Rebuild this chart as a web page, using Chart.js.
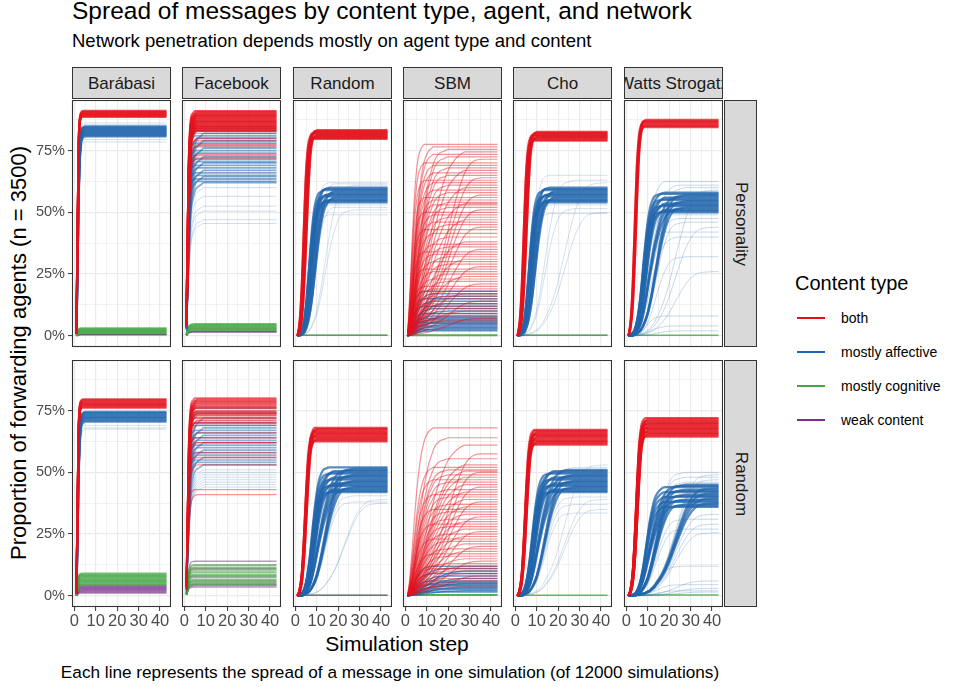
<!DOCTYPE html>
<html>
<head>
<meta charset="utf-8">
<script src="https://cdn.jsdelivr.net/npm/chart.js@4/dist/chart.umd.min.js"></script>
<style>
  body { margin: 0; background: #fff; width: 957px; height: 687px; position: relative; overflow: hidden;
         font-family: "Liberation Sans", Arial, sans-serif; color: #000; }
  .txt { position: absolute; white-space: nowrap; line-height: 1; }
  .strip { position: absolute; background: #D9D9D9; border: 1px solid #333; box-sizing: border-box;
           overflow: hidden; color: #1A1A1A; font-size: 17px; white-space: nowrap; }
  .strip span { position: absolute; left: 50%; top: 50%; width: max-content; transform: translate(-50%, -50%); line-height: 1; }
  .strip.side span { transform: translate(-50%, -50%) rotate(90deg); }
  canvas { position: absolute; }
  .key { position: absolute; height: 2px; width: 28px; }
</style>
</head>
<body>
<div class="txt" style="left:72px;top:-1px;font-size:24.5px;">Spread of messages by content type, agent, and network</div>
<div class="txt" style="left:72px;top:32px;font-size:18.5px;">Network penetration depends mostly on agent type and content</div>
<div class="txt" style="left:19px;top:353px;font-size:22px;transform:translate(-50%,-50%) rotate(-90deg);">Proportion of forwarding agents (n = 3500)</div>
<div class="txt" style="left:397px;top:633px;font-size:21px;transform:translateX(-50%);">Simulation step</div>
<div class="txt" style="left:390px;top:664px;font-size:17.2px;transform:translateX(-50%);">Each line represents the spread of a message in one simulation (of 12000 simulations)</div>
<div id="legend"></div>
<div id="panels"></div>

<script>
// ---- facets and content types ----
const NETWORKS = ['Barábasi', 'Facebook', 'Random', 'SBM', 'Cho', 'Watts Strogatz'];
const AGENTS = ['Personality', 'Random'];
const CONTENT_TYPES = ['both', 'mostly affective', 'mostly cognitive', 'weak content'];
const CONTENT_COLORS = ['#E4111C', '#2166AC', '#44A544', '#7B2D8E'];

// ---- axes ----
const X_BREAKS = [0, 10, 20, 30, 40];
const X_MINOR = [5, 15, 25, 35, 45];
const Y_BREAKS = [0, 0.25, 0.5, 0.75];
const Y_MINOR = [0.125, 0.375, 0.625, 0.875];

// ---- simulation steps at which each curve is sampled ----
const STEPS = [1, 2, 3, 4, 5, 6, 7, 8, 9, 10, 11, 12, 13, 14, 16, 18, 20, 22, 25, 28, 32, 36, 43];

// rise curves: share of the final level reached at each step
const RISE_FAST_A = [0.01, 0.86, 0.99, 1, 1, 1, 1, 1, 1, 1, 1, 1, 1, 1, 1, 1, 1, 1, 1, 1, 1, 1, 1];
const RISE_FAST_B = [0.01, 0.68, 0.95, 0.99, 1, 1, 1, 1, 1, 1, 1, 1, 1, 1, 1, 1, 1, 1, 1, 1, 1, 1, 1];
const RISE_FB_A = [0.08, 0.75, 0.96, 0.99, 1, 1, 1, 1, 1, 1, 1, 1, 1, 1, 1, 1, 1, 1, 1, 1, 1, 1, 1];
const RISE_FB_B = [0.05, 0.6, 0.9, 0.97, 0.99, 1, 1, 1, 1, 1, 1, 1, 1, 1, 1, 1, 1, 1, 1, 1, 1, 1, 1];
const RISE_FB_C = [0.04, 0.5, 0.8, 0.9, 0.95, 0.97, 0.98, 0.99, 1, 1, 1, 1, 1, 1, 1, 1, 1, 1, 1, 1, 1, 1, 1];
const RISE_RED_A = [0, 0.07, 0.25, 0.55, 0.82, 0.95, 0.99, 1, 1, 1, 1, 1, 1, 1, 1, 1, 1, 1, 1, 1, 1, 1, 1];
const RISE_RED_AB = [0, 0.055, 0.19, 0.45, 0.73, 0.91, 0.98, 1, 1, 1, 1, 1, 1, 1, 1, 1, 1, 1, 1, 1, 1, 1, 1];
const RISE_RED_B = [0, 0.04, 0.14, 0.36, 0.64, 0.86, 0.96, 0.99, 1, 1, 1, 1, 1, 1, 1, 1, 1, 1, 1, 1, 1, 1, 1];
const RISE_RED_BC = [0, 0.03, 0.11, 0.29, 0.54, 0.78, 0.93, 0.98, 1, 1, 1, 1, 1, 1, 1, 1, 1, 1, 1, 1, 1, 1, 1];
const RISE_RED_C = [0, 0.02, 0.08, 0.22, 0.45, 0.7, 0.89, 0.97, 0.99, 1, 1, 1, 1, 1, 1, 1, 1, 1, 1, 1, 1, 1, 1];
const RISE_BLUE_A = [0, 0.01, 0.04, 0.1, 0.22, 0.4, 0.6, 0.77, 0.89, 0.95, 0.98, 0.99, 1, 1, 1, 1, 1, 1, 1, 1, 1, 1, 1];
const RISE_BLUE_AB = [0, 0.01, 0.03, 0.07, 0.16, 0.3, 0.47, 0.64, 0.79, 0.88, 0.94, 0.97, 0.99, 1, 1, 1, 1, 1, 1, 1, 1, 1, 1];
const RISE_BLUE_B = [0, 0.01, 0.02, 0.05, 0.11, 0.21, 0.35, 0.52, 0.68, 0.81, 0.9, 0.95, 0.98, 0.99, 1, 1, 1, 1, 1, 1, 1, 1, 1];
const RISE_BLUE_BC = [0, 0.005, 0.015, 0.035, 0.08, 0.15, 0.26, 0.4, 0.55, 0.69, 0.8, 0.88, 0.93, 0.96, 0.99, 1, 1, 1, 1, 1, 1, 1, 1];
const RISE_BLUE_C = [0, 0, 0.01, 0.02, 0.05, 0.1, 0.18, 0.29, 0.43, 0.57, 0.7, 0.8, 0.88, 0.93, 0.98, 1, 1, 1, 1, 1, 1, 1, 1];
const RISE_BLUE_CD = [0, 0, 0.005, 0.015, 0.035, 0.065, 0.11, 0.18, 0.27, 0.37, 0.47, 0.56, 0.65, 0.72, 0.85, 0.93, 0.97, 0.99, 1, 1, 1, 1, 1];
const RISE_BLUE_D = [0, 0, 0, 0.01, 0.02, 0.03, 0.05, 0.08, 0.12, 0.17, 0.24, 0.32, 0.41, 0.5, 0.68, 0.82, 0.92, 0.97, 0.99, 1, 1, 1, 1];
const RISE_BLUE_E = [0, 0, 0, 0, 0.01, 0.01, 0.02, 0.02, 0.03, 0.04, 0.05, 0.07, 0.09, 0.12, 0.18, 0.26, 0.36, 0.48, 0.66, 0.82, 0.95, 0.99, 1];
const RISE_SBM_A = [0, 0.2, 0.45, 0.68, 0.84, 0.93, 0.97, 0.99, 1, 1, 1, 1, 1, 1, 1, 1, 1, 1, 1, 1, 1, 1, 1];
const RISE_SBM_B = [0, 0.1, 0.25, 0.42, 0.58, 0.71, 0.81, 0.88, 0.93, 0.96, 0.98, 0.99, 1, 1, 1, 1, 1, 1, 1, 1, 1, 1, 1];
const RISE_SBM_C = [0, 0.05, 0.12, 0.22, 0.33, 0.44, 0.54, 0.63, 0.71, 0.78, 0.84, 0.88, 0.92, 0.95, 0.98, 0.99, 1, 1, 1, 1, 1, 1, 1];
const RISE_SBM_D = [0, 0.03, 0.06, 0.1, 0.15, 0.2, 0.26, 0.32, 0.38, 0.44, 0.5, 0.56, 0.62, 0.67, 0.76, 0.84, 0.9, 0.94, 0.98, 1, 1, 1, 1];
const RISE_SBM_E = [0, 0.02, 0.04, 0.06, 0.08, 0.1, 0.12, 0.14, 0.17, 0.2, 0.23, 0.26, 0.3, 0.34, 0.42, 0.5, 0.6, 0.7, 0.83, 0.93, 0.99, 1, 1];

// ---- final levels (share of forwarding agents) per facet ----
// Personality agents
const BAR_P_BOTH = [0.887, 0.891, 0.895, 0.899, 0.903, 0.907, 0.911];
const BAR_P_AFF = [0.808, 0.812, 0.816, 0.82, 0.824, 0.828, 0.832, 0.836, 0.84, 0.844, 0.848];
const BAR_P_AFF_FAINT = [0.785, 0.795, 0.855, 0.862];
const BAR_P_COG = [0.01, 0.014, 0.018, 0.022, 0.026, 0.03];
const BAR_P_WEAK = [0.004, 0.006];

const FB_P_BOTH = [0.91, 0.905, 0.9, 0.895, 0.89, 0.885, 0.88, 0.875, 0.87, 0.865, 0.86, 0.855, 0.85, 0.845, 0.84, 0.835, 0.83];
const FB_P_BOTH_FAINT = [0.82, 0.8, 0.79, 0.775, 0.765, 0.735, 0.73, 0.72];
const FB_P_AFF = [0.84, 0.83, 0.82, 0.81, 0.8, 0.79, 0.78, 0.77, 0.76, 0.75, 0.74, 0.725, 0.715, 0.705, 0.7, 0.69, 0.68, 0.67, 0.66, 0.65, 0.645, 0.635, 0.625, 0.62];
const FB_P_AFF_FAINT = [0.6, 0.565, 0.525, 0.505, 0.47, 0.455];
const FB_P_COG = [0.022, 0.027, 0.032, 0.037, 0.042, 0.047];
const FB_P_WEAK = [0.015, 0.018];

const RND_P_BOTH = [0.797, 0.801, 0.805, 0.809, 0.813, 0.817, 0.821, 0.825, 0.829, 0.833];
const RND_P_AFF = [0.54, 0.545, 0.55, 0.555, 0.56, 0.565, 0.57, 0.575, 0.58, 0.585, 0.59, 0.595, 0.6];
const RND_P_AFF_FAINT = [0.62, 0.615, 0.61, 0.53, 0.52, 0.51, 0.49];
const RND_P_LOW = [0.002];

const SBM_P_BOTH = [0.775, 0.765, 0.755, 0.745, 0.735, 0.725, 0.715, 0.7, 0.69, 0.68, 0.67, 0.66, 0.65, 0.64, 0.63, 0.62,
  0.61, 0.6, 0.59, 0.58, 0.57, 0.56, 0.55, 0.54, 0.535, 0.53, 0.52, 0.51, 0.5, 0.49, 0.48, 0.47, 0.46, 0.45, 0.44, 0.43,
  0.415, 0.4, 0.38, 0.37, 0.36, 0.35, 0.34, 0.33, 0.32, 0.31, 0.3, 0.29, 0.28, 0.27, 0.26, 0.25, 0.24, 0.23, 0.22, 0.21, 0.2, 0.19,
  0.18, 0.17, 0.16, 0.15, 0.14, 0.13, 0.12, 0.11, 0.1, 0.09, 0.08, 0.07, 0.06, 0.05];
const SBM_P_AFF = [0.18, 0.17, 0.16, 0.15, 0.14, 0.13, 0.12, 0.11, 0.1, 0.09, 0.08, 0.075, 0.07, 0.065, 0.06, 0.055,
  0.05, 0.045, 0.04, 0.035, 0.03, 0.025, 0.02];
const SBM_P_LOW = [0.002];

const CHO_P_BOTH = [0.79, 0.794, 0.798, 0.802, 0.806, 0.81, 0.814, 0.818, 0.822, 0.826];
const CHO_P_AFF = [0.54, 0.545, 0.55, 0.555, 0.56, 0.565, 0.57, 0.575, 0.58, 0.585, 0.59, 0.595, 0.6];
const CHO_P_AFF_FAINT = [0.65, 0.63, 0.62, 0.53, 0.515, 0.5, 0.495];
const CHO_P_LOW = [0.002];

const WS_P_BOTH = [0.845, 0.85, 0.855, 0.86, 0.865, 0.87, 0.875];
const WS_P_AFF = [0.5, 0.505, 0.51, 0.515, 0.52, 0.525, 0.53, 0.535, 0.54, 0.545, 0.55, 0.555, 0.56, 0.565, 0.57, 0.575, 0.58];
const WS_P_AFF_FAINT = [0.625, 0.61, 0.6, 0.59, 0.49, 0.475, 0.46, 0.44, 0.42, 0.4, 0.32, 0.26, 0.08, 0.04, 0.02];
const WS_P_LOW = [0.002];

// Random agents
const BAR_R_BOTH = [0.762, 0.767, 0.772, 0.777, 0.782, 0.787, 0.792, 0.796];
const BAR_R_AFF = [0.705, 0.71, 0.715, 0.72, 0.725, 0.73, 0.735, 0.74, 0.745];
const BAR_R_AFF_FAINT = [0.69, 0.68, 0.675];
const BAR_R_COG = [0.045, 0.05, 0.055, 0.06, 0.065, 0.07, 0.075, 0.08, 0.085, 0.09];
const BAR_R_WEAK = [0.012, 0.017, 0.022, 0.027, 0.032, 0.037, 0.042];

const FB_R_BOTH = [0.8, 0.795, 0.79, 0.785, 0.78, 0.775, 0.77, 0.765, 0.76, 0.75, 0.745, 0.74, 0.735, 0.73, 0.72, 0.71, 0.7];
const FB_R_BOTH_FAINT = [0.69, 0.66, 0.64, 0.62, 0.62, 0.58, 0.56, 0.53, 0.43, 0.41];
const FB_R_AFF = [0.76, 0.74, 0.72, 0.7, 0.69, 0.68, 0.67, 0.66, 0.65, 0.64, 0.63, 0.62, 0.61, 0.6, 0.59, 0.58, 0.57, 0.56, 0.55, 0.54, 0.53];
const FB_R_AFF_FAINT = [0.51, 0.5, 0.49, 0.48, 0.47, 0.46, 0.45, 0.44];
const FB_R_COG = [0.045, 0.055, 0.065, 0.075, 0.085, 0.095, 0.105, 0.115, 0.125];
const FB_R_WEAK = [0.035, 0.04, 0.045, 0.05, 0.06, 0.08, 0.11, 0.14];

const RND_R_BOTH = [0.625, 0.63, 0.635, 0.64, 0.645, 0.65, 0.655, 0.66, 0.665, 0.67, 0.675, 0.68];
const RND_R_AFF = [0.42, 0.425, 0.43, 0.435, 0.44, 0.445, 0.45, 0.455, 0.46, 0.465, 0.47, 0.475, 0.48, 0.485, 0.49, 0.495, 0.5, 0.505, 0.51, 0.515, 0.52];
const RND_R_AFF_FAINT = [0.405, 0.39, 0.38, 0.375];
const RND_R_LOW = [0.002];

const SBM_R_BOTH = [0.68, 0.64, 0.61, 0.575, 0.555, 0.53, 0.52, 0.51, 0.505, 0.5, 0.49, 0.48, 0.47, 0.46, 0.45, 0.44, 0.43,
  0.42, 0.41, 0.4, 0.39, 0.38, 0.37, 0.36, 0.35, 0.34, 0.33, 0.32, 0.31, 0.3, 0.29, 0.28, 0.27, 0.26, 0.25, 0.24, 0.23,
  0.22, 0.21, 0.2, 0.19, 0.18, 0.17, 0.16, 0.15, 0.14, 0.13, 0.12, 0.11, 0.1, 0.09, 0.08, 0.07, 0.06, 0.05, 0.04];
const SBM_R_AFF = [0.12, 0.11, 0.1, 0.09, 0.08, 0.07, 0.06, 0.055, 0.05, 0.045, 0.04, 0.035, 0.03, 0.025, 0.02, 0.015];
const SBM_R_LOW = [0.003];

const CHO_R_BOTH = [0.612, 0.617, 0.622, 0.627, 0.632, 0.637, 0.642, 0.647, 0.652, 0.657, 0.662, 0.667, 0.672];
const CHO_R_AFF = [0.42, 0.425, 0.43, 0.435, 0.44, 0.445, 0.45, 0.455, 0.46, 0.465, 0.47, 0.475, 0.48, 0.485, 0.49, 0.495, 0.5, 0.505, 0.51];
const CHO_R_AFF_FAINT = [0.52, 0.53, 0.4, 0.39, 0.37, 0.35, 0.335];
const CHO_R_LOW = [0.002];

const WS_R_BOTH = [0.645, 0.65, 0.655, 0.66, 0.665, 0.67, 0.675, 0.68, 0.685, 0.69, 0.695, 0.7, 0.705, 0.71, 0.715, 0.72];
const WS_R_AFF = [0.36, 0.365, 0.37, 0.375, 0.38, 0.385, 0.39, 0.395, 0.4, 0.405, 0.41, 0.415, 0.42, 0.425, 0.43, 0.435, 0.44, 0.445, 0.45];
const WS_R_AFF_FAINT = [0.5, 0.49, 0.48, 0.47, 0.46, 0.33, 0.31, 0.29, 0.27, 0.255, 0.12, 0.06, 0.045, 0.03, 0.02, 0.015];
const WS_R_LOW = [0.003];

// ---- facet table: which curves go in which panel, in drawing order ----
// t = content type index
const BAND = { alpha: 0.75, width: 2.2 };
const FAINT = { alpha: 0.2, width: 1 };
const RED_EARLY = [RISE_RED_A, RISE_RED_AB, RISE_RED_B, RISE_RED_BC, RISE_RED_C];
const RED_LATE = [RISE_RED_B, RISE_RED_BC, RISE_RED_C, RISE_RED_BC];
const BLUE_EARLY = [RISE_BLUE_A, RISE_BLUE_AB, RISE_BLUE_B, RISE_BLUE_BC, RISE_BLUE_C];
const BLUE_LATE = [RISE_BLUE_B, RISE_BLUE_BC, RISE_BLUE_C, RISE_BLUE_CD, RISE_BLUE_D];
const BLUE_SLOW = [RISE_BLUE_C, RISE_BLUE_CD, RISE_BLUE_D, RISE_BLUE_E];
const SBM_MIX_P = [RISE_SBM_A, RISE_SBM_B, RISE_SBM_C, RISE_SBM_D, RISE_SBM_B, RISE_SBM_C, RISE_SBM_E];
const SBM_MIX_R = [RISE_SBM_B, RISE_SBM_C, RISE_SBM_D, RISE_SBM_E, RISE_SBM_C, RISE_SBM_D];
const PANELS = [
  { row: 0, col: 0, groups: [
    { t: 0, levels: BAR_P_BOTH, rises: [RISE_FAST_A], ...BAND },
    { t: 1, levels: BAR_P_AFF_FAINT, rises: [RISE_FAST_B], ...FAINT },
    { t: 1, levels: BAR_P_AFF, rises: [RISE_FAST_B, RISE_FAST_A], ...BAND },
    { t: 2, levels: BAR_P_COG, rises: [RISE_FAST_A], ...BAND },
    { t: 3, levels: BAR_P_WEAK, rises: [RISE_FAST_A], alpha: 0.8, width: 1.5 } ] },
  { row: 0, col: 1, groups: [
    { t: 0, levels: FB_P_BOTH, rises: [RISE_FB_A, RISE_FB_B], ...BAND },
    { t: 0, levels: FB_P_BOTH_FAINT, rises: [RISE_FB_A, RISE_FB_B], alpha: 0.45, width: 1.3 },
    { t: 1, levels: FB_P_AFF, rises: [RISE_FB_A, RISE_FB_B, RISE_FB_C], alpha: 0.55, width: 1.8 },
    { t: 1, levels: FB_P_AFF_FAINT, rises: [RISE_FB_C], alpha: 0.22, width: 1 },
    { t: 2, levels: FB_P_COG, rises: [RISE_FB_A], ...BAND },
    { t: 3, levels: FB_P_WEAK, rises: [RISE_FB_A], alpha: 0.8, width: 1.5 } ] },
  { row: 0, col: 2, groups: [
    { t: 0, levels: RND_P_BOTH, rises: RED_EARLY, ...BAND },
    { t: 1, levels: RND_P_AFF_FAINT, rises: [RISE_BLUE_B, RISE_BLUE_C, RISE_BLUE_D], ...FAINT },
    { t: 1, levels: RND_P_AFF, rises: BLUE_EARLY, ...BAND },
    { t: 2, levels: RND_P_LOW, rises: [RISE_FAST_A], alpha: 0.8, width: 1.5 },
    { t: 3, levels: RND_P_LOW, rises: [RISE_FAST_A], alpha: 0.5, width: 1.5 } ] },
  { row: 0, col: 3, groups: [
    { t: 0, levels: SBM_P_BOTH, rises: SBM_MIX_P, alpha: 0.45, width: 1.2 },
    { t: 1, levels: SBM_P_AFF, rises: [RISE_SBM_A, RISE_SBM_B, RISE_SBM_C], alpha: 0.7, width: 1.5 },
    { t: 2, levels: SBM_P_LOW, rises: [RISE_FAST_A], alpha: 0.9, width: 2 } ] },
  { row: 0, col: 4, groups: [
    { t: 0, levels: CHO_P_BOTH, rises: RED_EARLY, ...BAND },
    { t: 1, levels: CHO_P_AFF_FAINT, rises: [RISE_BLUE_B, RISE_BLUE_D, RISE_BLUE_E], ...FAINT },
    { t: 1, levels: CHO_P_AFF, rises: BLUE_EARLY, ...BAND },
    { t: 2, levels: CHO_P_LOW, rises: [RISE_FAST_A], alpha: 0.8, width: 1.5 },
    { t: 3, levels: CHO_P_LOW, rises: [RISE_FAST_A], alpha: 0.5, width: 1.5 } ] },
  { row: 0, col: 5, groups: [
    { t: 0, levels: WS_P_BOTH, rises: [RISE_RED_A, RISE_RED_AB, RISE_RED_B, RISE_RED_AB], ...BAND },
    { t: 1, levels: WS_P_AFF_FAINT, rises: BLUE_SLOW, alpha: 0.25, width: 1 },
    { t: 1, levels: WS_P_AFF, rises: BLUE_LATE, ...BAND },
    { t: 2, levels: WS_P_LOW, rises: [RISE_FAST_A], alpha: 0.8, width: 1.5 } ] },
  { row: 1, col: 0, groups: [
    { t: 0, levels: BAR_R_BOTH, rises: [RISE_FAST_A], ...BAND },
    { t: 1, levels: BAR_R_AFF_FAINT, rises: [RISE_FAST_B], ...FAINT },
    { t: 1, levels: BAR_R_AFF, rises: [RISE_FAST_B, RISE_FAST_A], ...BAND },
    { t: 2, levels: BAR_R_COG, rises: [RISE_FAST_A], alpha: 0.7, width: 2 },
    { t: 3, levels: BAR_R_WEAK, rises: [RISE_FAST_A], alpha: 0.6, width: 2 } ] },
  { row: 1, col: 1, groups: [
    { t: 0, levels: FB_R_BOTH, rises: [RISE_FB_A, RISE_FB_B], alpha: 0.6, width: 1.8 },
    { t: 0, levels: FB_R_BOTH_FAINT, rises: [RISE_FB_A, RISE_FB_B], alpha: 0.45, width: 1.3 },
    { t: 1, levels: FB_R_AFF, rises: [RISE_FB_A, RISE_FB_B, RISE_FB_C], alpha: 0.5, width: 1.7 },
    { t: 1, levels: FB_R_AFF_FAINT, rises: [RISE_FB_C], alpha: 0.22, width: 1 },
    { t: 2, levels: FB_R_COG, rises: [RISE_FB_A], alpha: 0.65, width: 2 },
    { t: 3, levels: FB_R_WEAK, rises: [RISE_FB_A], alpha: 0.5, width: 1.4 } ] },
  { row: 1, col: 2, groups: [
    { t: 0, levels: RND_R_BOTH, rises: RED_LATE, ...BAND },
    { t: 1, levels: RND_R_AFF_FAINT, rises: [RISE_BLUE_D, RISE_BLUE_E], ...FAINT },
    { t: 1, levels: RND_R_AFF, rises: BLUE_LATE, ...BAND },
    { t: 2, levels: RND_R_LOW, rises: [RISE_FAST_A], alpha: 0.5, width: 1.5 },
    { t: 3, levels: RND_R_LOW, rises: [RISE_FAST_A], alpha: 0.8, width: 1.5 } ] },
  { row: 1, col: 3, groups: [
    { t: 0, levels: SBM_R_BOTH, rises: SBM_MIX_R, alpha: 0.45, width: 1.2 },
    { t: 1, levels: SBM_R_AFF, rises: [RISE_SBM_B, RISE_SBM_C, RISE_SBM_D], alpha: 0.7, width: 1.5 },
    { t: 2, levels: SBM_R_LOW, rises: [RISE_FAST_A], alpha: 0.9, width: 2 } ] },
  { row: 1, col: 4, groups: [
    { t: 0, levels: CHO_R_BOTH, rises: RED_LATE, ...BAND },
    { t: 1, levels: CHO_R_AFF_FAINT, rises: [RISE_BLUE_D, RISE_BLUE_E], ...FAINT },
    { t: 1, levels: CHO_R_AFF, rises: BLUE_LATE, ...BAND },
    { t: 2, levels: CHO_R_LOW, rises: [RISE_FAST_A], alpha: 0.8, width: 1.5 } ] },
  { row: 1, col: 5, groups: [
    { t: 0, levels: WS_R_BOTH, rises: [RISE_RED_B, RISE_RED_BC, RISE_RED_C], ...BAND },
    { t: 1, levels: WS_R_AFF_FAINT, rises: [RISE_BLUE_D, RISE_BLUE_E], alpha: 0.25, width: 1 },
    { t: 1, levels: WS_R_AFF, rises: BLUE_SLOW, ...BAND },
    { t: 2, levels: WS_R_LOW, rises: [RISE_FAST_A], alpha: 0.8, width: 1.5 } ] }
];

// ---- layout ----
const PANEL_LEFT = [72, 182, 293, 403, 513, 624];
const PANEL_TOP = [100, 360];
const PANEL_W = 99, PANEL_H = 247;
const AXIS_W = 40, AXIS_H = 26;
const FONT = '"Liberation Sans", Arial, sans-serif';

function withAlpha(hex, a) {
  const n = parseInt(hex.slice(1), 16);
  return `rgba(${n >> 16}, ${(n >> 8) & 255}, ${n & 255}, ${a})`;
}

// dark frame round each panel
const panelFrame = {
  id: 'panelFrame',
  afterDraw(chart) {
    const { ctx, chartArea: a } = chart;
    ctx.save();
    ctx.strokeStyle = '#333';
    ctx.lineWidth = 1.1;
    ctx.strokeRect(a.left + 0.5, a.top + 0.5, a.width - 1, a.height - 1);
    ctx.restore();
  }
};

const host = document.getElementById('panels');

// strips on top and right
function addStrip(name, cls, box) {
  const d = document.createElement('div');
  d.className = cls;
  Object.assign(d.style, box);
  const s = document.createElement('span');
  s.textContent = name;
  d.appendChild(s);
  host.appendChild(d);
}
NETWORKS.forEach((name, c) => addStrip(name, 'strip',
  { left: PANEL_LEFT[c] + 'px', top: '67px', width: PANEL_W + 'px', height: '32px' }));
AGENTS.forEach((name, r) => addStrip(name, 'strip side',
  { left: '724px', top: PANEL_TOP[r] + 'px', width: '33px', height: PANEL_H + 'px' }));

PANELS.forEach(p => {
  const canvas = document.createElement('canvas');
  canvas.width = AXIS_W + PANEL_W;
  canvas.height = PANEL_H + AXIS_H;
  canvas.style.left = (PANEL_LEFT[p.col] - AXIS_W) + 'px';
  canvas.style.top = PANEL_TOP[p.row] + 'px';
  host.appendChild(canvas);

  const showY = p.col === 0;
  const showX = p.row === 1;

  const datasets = [];
  p.groups.forEach(g => {
    g.levels.forEach((level, i) => {
      const rise = g.rises[i % g.rises.length];
      datasets.push({
        data: STEPS.map((s, k) => ({ x: s, y: level * rise[k] })),
        borderColor: withAlpha(CONTENT_COLORS[g.t], g.alpha),
        borderWidth: g.width,
        pointRadius: 0,
        fill: false,
        cubicInterpolationMode: 'monotone'
      });
    });
  });

  new Chart(canvas, {
    type: 'line',
    data: { datasets },
    options: {
      animation: false,
      responsive: false,
      devicePixelRatio: 1,
      events: [],
      layout: { padding: 0 },
      plugins: { legend: { display: false }, tooltip: { enabled: false } },
      scales: {
        x: {
          type: 'linear', min: -1.1, max: 45.1,
          afterBuildTicks: s => { s.ticks = X_BREAKS.concat(X_MINOR).sort((a, b) => a - b).map(v => ({ value: v })); },
          afterFit: s => { s.height = AXIS_H; s.paddingLeft = 0; s.paddingRight = 0; },
          border: { display: false },
          grid: {
            color: '#EBEBEB',
            lineWidth: c => X_BREAKS.includes(c.tick.value) ? 1.2 : 0.7,
            tickColor: c => (showX && X_BREAKS.includes(c.tick.value)) ? '#333' : 'rgba(0,0,0,0)',
            tickLength: 4, tickWidth: 1
          },
          ticks: {
            display: true, autoSkip: false, maxRotation: 0, minRotation: 0, padding: 1,
            color: showX ? '#4D4D4D' : 'rgba(0,0,0,0)',
            font: { family: FONT, size: 16.5 },
            callback: v => X_BREAKS.includes(v) ? String(v) : ''
          }
        },
        y: {
          type: 'linear', min: -0.0455, max: 0.955,
          afterBuildTicks: s => { s.ticks = Y_BREAKS.concat(Y_MINOR).sort((a, b) => a - b).map(v => ({ value: v })); },
          afterFit: s => { s.width = AXIS_W; s.paddingTop = 0; s.paddingBottom = 0; },
          border: { display: false },
          grid: {
            color: '#EBEBEB',
            lineWidth: c => Y_BREAKS.includes(c.tick.value) ? 1.2 : 0.7,
            tickColor: c => (showY && Y_BREAKS.includes(c.tick.value)) ? '#333' : 'rgba(0,0,0,0)',
            tickLength: 4, tickWidth: 1
          },
          ticks: {
            display: true, autoSkip: false, padding: 3,
            color: showY ? '#4D4D4D' : 'rgba(0,0,0,0)',
            font: { family: FONT, size: 14.5 },
            callback: v => Y_BREAKS.includes(v) ? Math.round(v * 100) + '%' : ''
          }
        }
      }
    },
    plugins: [panelFrame]
  });
});

// ---- legend ----
const legend = document.getElementById('legend');
const title = document.createElement('div');
title.className = 'txt';
Object.assign(title.style, { left: '795px', top: '273px', fontSize: '20px' });
title.textContent = 'Content type';
legend.appendChild(title);
CONTENT_TYPES.forEach((name, i) => {
  const y = 318 + i * 34;
  const key = document.createElement('div');
  key.className = 'key';
  Object.assign(key.style, { left: '797px', top: (y - 1) + 'px', background: CONTENT_COLORS[i] });
  legend.appendChild(key);
  const lab = document.createElement('div');
  lab.className = 'txt';
  Object.assign(lab.style, { left: '841px', top: (y - 7) + 'px', fontSize: '14px' });
  lab.textContent = name;
  legend.appendChild(lab);
});
</script>
</body>
</html>
